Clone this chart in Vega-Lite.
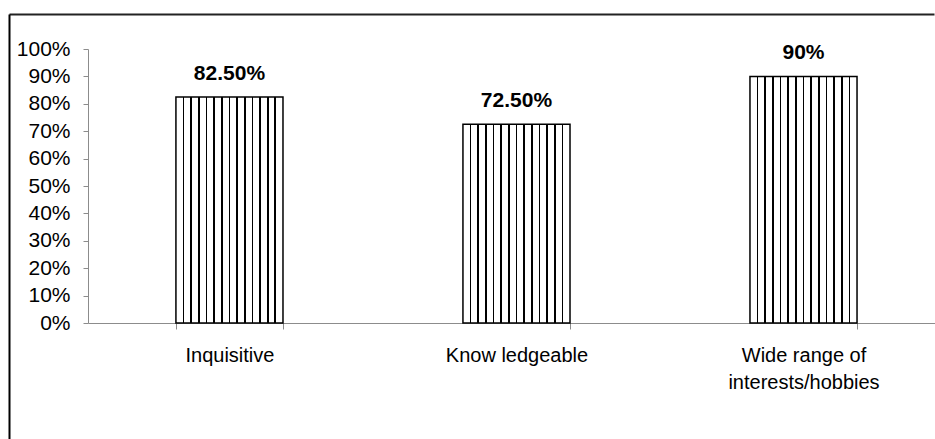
{
  "$schema": "https://vega.github.io/schema/vega-lite/v6.json",
  "autosize": {"type": "none"},
  "padding": {"left": 88, "top": 49, "right": 0, "bottom": 116},
  "width": 847,
  "height": 274,
  "background": "white",
  "data": {
    "values": [
      {"category": "Inquisitive", "value": 0.825, "label": "82.50%"},
      {"category": "Know ledgeable", "value": 0.725, "label": "72.50%"},
      {"category": "Wide range of interests/hobbies", "value": 0.9, "label": "90%"}
    ]
  },
  "resolve": {"scale": {"x": "independent", "y": "independent"}},
  "layer": [
    {
      "encoding": {
        "x": {
          "field": "category", "type": "nominal", "sort": null,
          "scale": {"paddingInner": 0.627, "paddingOuter": 0.289, "align": 0.53, "round": false},
          "axis": {
            "title": null, "labelAngle": 0, "tickBand": "extent",
            "domainColor": "#8c8c8c", "tickColor": "#8c8c8c", "tickSize": 6,
            "labelPadding": 16, "labelFont": "Liberation Sans", "labelFontSize": 20,
            "labelColor": "black", "labelLineHeight": 27,
            "labelExpr": "datum.label == 'Wide range of interests/hobbies' ? ['Wide range of', 'interests/hobbies'] : datum.label"
          }
        },
        "y": {
          "field": "value", "type": "quantitative",
          "scale": {"domain": [0, 1], "nice": false},
          "axis": {
            "title": null, "values": [0, 0.1, 0.2, 0.3, 0.4, 0.5, 0.6, 0.7, 0.8, 0.9, 1],
            "format": ".0%", "grid": false, "domainColor": "#8c8c8c", "tickColor": "#8c8c8c",
            "tickSize": 5, "labelPadding": 13, "labelFont": "Liberation Sans",
            "labelFontSize": 21, "labelColor": "black"
          }
        }
      },
      "layer": [
        {
          "mark": {
            "type": "bar",
            "stroke": "black",
            "strokeWidth": 1.5,
            "fill": {
              "gradient": "linear", "x1": 0, "y1": 0, "x2": 1, "y2": 0,
              "stops": [
                {"offset": 0, "color": "white"},
                {"offset": 0.0634, "color": "white"}, {"offset": 0.0634, "color": "black"}, {"offset": 0.0794, "color": "black"}, {"offset": 0.0794, "color": "white"},
                {"offset": 0.1349, "color": "white"}, {"offset": 0.1349, "color": "black"}, {"offset": 0.1509, "color": "black"}, {"offset": 0.1509, "color": "white"},
                {"offset": 0.2063, "color": "white"}, {"offset": 0.2063, "color": "black"}, {"offset": 0.2223, "color": "black"}, {"offset": 0.2223, "color": "white"},
                {"offset": 0.2777, "color": "white"}, {"offset": 0.2777, "color": "black"}, {"offset": 0.2937, "color": "black"}, {"offset": 0.2937, "color": "white"},
                {"offset": 0.3491, "color": "white"}, {"offset": 0.3491, "color": "black"}, {"offset": 0.3651, "color": "black"}, {"offset": 0.3651, "color": "white"},
                {"offset": 0.4206, "color": "white"}, {"offset": 0.4206, "color": "black"}, {"offset": 0.4366, "color": "black"}, {"offset": 0.4366, "color": "white"},
                {"offset": 0.492, "color": "white"}, {"offset": 0.492, "color": "black"}, {"offset": 0.508, "color": "black"}, {"offset": 0.508, "color": "white"},
                {"offset": 0.5634, "color": "white"}, {"offset": 0.5634, "color": "black"}, {"offset": 0.5794, "color": "black"}, {"offset": 0.5794, "color": "white"},
                {"offset": 0.6349, "color": "white"}, {"offset": 0.6349, "color": "black"}, {"offset": 0.6509, "color": "black"}, {"offset": 0.6509, "color": "white"},
                {"offset": 0.7063, "color": "white"}, {"offset": 0.7063, "color": "black"}, {"offset": 0.7223, "color": "black"}, {"offset": 0.7223, "color": "white"},
                {"offset": 0.7777, "color": "white"}, {"offset": 0.7777, "color": "black"}, {"offset": 0.7937, "color": "black"}, {"offset": 0.7937, "color": "white"},
                {"offset": 0.8491, "color": "white"}, {"offset": 0.8491, "color": "black"}, {"offset": 0.8651, "color": "black"}, {"offset": 0.8651, "color": "white"},
                {"offset": 0.9206, "color": "white"}, {"offset": 0.9206, "color": "black"}, {"offset": 0.9366, "color": "black"}, {"offset": 0.9366, "color": "white"},
                {"offset": 1, "color": "white"}
              ]
            }
          }
        },
        {
          "mark": {
            "type": "text", "font": "Liberation Sans", "fontSize": 21, "fontWeight": "bold",
            "baseline": "alphabetic", "align": "center", "dy": -17, "color": "black"
          },
          "encoding": {"text": {"field": "label"}}
        }
      ]
    },
    {
      "mark": {"type": "point", "opacity": 0},
      "encoding": {
        "x": {
          "field": "value", "type": "quantitative",
          "scale": {"domain": [0, 1], "range": [-79, 846], "nice": false, "zero": false},
          "axis": {"orient": "top", "offset": 35, "title": null, "labels": false, "ticks": false, "grid": false, "domainColor": "#222222", "domainWidth": 2}
        },
        "y": {
          "field": "value", "type": "quantitative",
          "scale": {"domain": [0, 1], "range": [390, -35], "nice": false, "zero": false},
          "axis": {"orient": "left", "offset": 79, "title": null, "labels": false, "ticks": false, "grid": false, "domainColor": "black", "domainWidth": 2}
        }
      }
    }
  ],
  "config": {"view": {"stroke": null}}
}
